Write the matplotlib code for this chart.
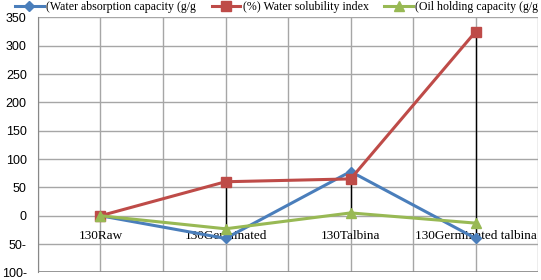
import numpy as np
import matplotlib.pyplot as plt

categories = ['130Raw', '130Germinated', '130Talbina', '130Germinated talbina']
water_absorption = [0, -40, 78, -40]
water_solubility = [0, 60, 65, 325]
oil_holding = [0, -23, 5, -13]
series_names = ['(Water absorption capacity (g/g', '(%) Water solubility index',
                '(Oil holding capacity (g/g']
yticks = [350, 300, 250, 200, 150, 100, 50, 0, -50, -100]

fig = plt.figure(figsize=(5.41, 2.8), dpi=100)
ax = fig.add_axes([0.070, 0.027, 0.925, 0.911])

x = np.arange(len(categories))
allv = np.array([water_absorption, water_solubility, oil_holding])
# high-low lines
ax.vlines(x, allv.min(axis=0), allv.max(axis=0), color='black', lw=1.0, zorder=2)

l1, = ax.plot(x, water_absorption, color='#4A7EBB', lw=2.2, marker='D', ms=5, zorder=3)
l2, = ax.plot(x, water_solubility, color='#BE4B48', lw=2.2, marker='s', ms=6.5, zorder=4)
l3, = ax.plot(x, oil_holding, color='#98B954', lw=2.2, marker='^', ms=7, zorder=5)

ax.set_xlim(-0.5, 3.5)
ax.set_ylim(-100, 350)
ax.spines['bottom'].set_position(('data', 0))
ax.spines['bottom'].set_visible(False)
ax.spines['top'].set_visible(False)
ax.spines['right'].set_visible(False)
ax.spines['left'].set_color('#888888')
ax.tick_params(axis='x', which='both', length=0, pad=10)
ax.tick_params(axis='y', length=0, pad=8)

ax.set_xticks(x)
ax.set_xticks(np.arange(-0.5, 3.6, 1.0), minor=True)
ax.set_xticklabels(categories)
ax.set_yticks(yticks)
ax.set_yticklabels([f'{abs(v)}-' if v < 0 else str(v) for v in yticks])
plt.setp(ax.get_xticklabels(), family='Liberation Serif', fontsize=9.5)
plt.setp(ax.get_yticklabels(), family='Liberation Sans', fontsize=9)

ax.grid(True, which='both', axis='x', color='#A6A6A6', lw=1)
ax.grid(True, which='major', axis='y', color='#A6A6A6', lw=1)
ax.axhline(-100, color='#888888', lw=1.2, zorder=1)
ax.set_axisbelow(True)

fig.legend([l1, l2, l3], series_names, loc='upper left', bbox_to_anchor=(0.028, 0.995),
           ncol=3, frameon=False, prop={'family': 'Liberation Serif', 'size': 8.6},
           handlelength=2.4, handletextpad=0.2, columnspacing=1.3, borderaxespad=0,
           borderpad=0)

fig.savefig('out.png', dpi=100)
